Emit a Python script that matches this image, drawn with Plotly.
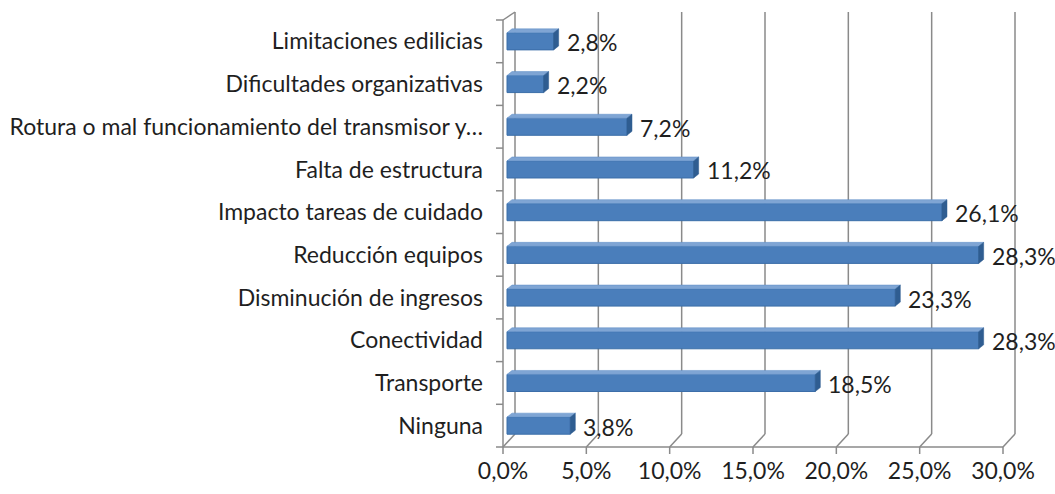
import plotly.graph_objects as go

# chart data, listed top to bottom as in the picture
labels = [
    "Limitaciones edilicias",
    "Dificultades organizativas",
    "Rotura o mal funcionamiento del transmisor y…",
    "Falta de estructura",
    "Impacto tareas de cuidado",
    "Reducción equipos",
    "Disminución de ingresos",
    "Conectividad",
    "Transporte",
    "Ninguna",
]
values = [2.8, 2.2, 7.2, 11.2, 26.1, 28.3, 23.3, 28.3, 18.5, 3.8]
x_ticks = [0, 5, 10, 15, 20, 25, 30]
x_tick_text = ["0,0%", "5,0%", "10,0%", "15,0%", "20,0%", "25,0%", "30,0%"]

# plotly draws categories bottom-up
cats = labels[::-1]
vals = values[::-1]
n = len(cats)

FONT = "Lato"
TXT = "#1f1f1f"
GRID = "#8a8a8a"
FRONT = "#4a7ebb"
TOP = "#7fa5d4"
SIDE = "#2f5d91"

W, H = 1055, 494
# where 0%..30% and the category band land on screen
X_LO, X_HI = 507, 1007
Y_TOP, Y_BOT = 20, 447
# the plot box is a bit bigger so the 3D walls/ticks are not clipped
L, R, T, B = 495, 1022, 6, 455
s = (X_HI - X_LO) / 30.0
c = (Y_BOT - Y_TOP) / n
x_range = [(L - X_LO) / s, 30 + (R - X_HI) / s]
y_range = [-0.5 - (B - Y_BOT) / c, n - 0.5 + (Y_TOP - T) / c]

# 3D look: front plane 4px left of the bars, back wall 8px right/13px up
FRONT_PX = -4
BACK_PX = 8
BACK_UP = 13
BAR_W = 0.4
dx = 0.3      # cap depth in % units (~5px)
dy = 0.093    # cap depth in category units (~4px)

fig = go.Figure()
fig.add_trace(go.Bar(
    x=vals, y=list(range(n)),
    orientation="h",
    width=BAR_W,
    marker=dict(color=FRONT, line=dict(color="#3b6ea8", width=1)),
    hoverinfo="skip",
))

shapes = []
gl = dict(color=GRID, width=1.5)
for t in x_ticks:
    # back wall gridline
    shapes.append(dict(type="line", layer="below",
                       xref="x", xsizemode="pixel", xanchor=t, x0=BACK_PX, x1=BACK_PX,
                       yref="y", ysizemode="pixel", yanchor=-0.5, y0=BACK_UP, y1=BACK_UP + 422,
                       line=gl))
    # floor diagonal
    shapes.append(dict(type="line", layer="below",
                       xref="x", xsizemode="pixel", xanchor=t, x0=FRONT_PX, x1=BACK_PX,
                       yref="y", ysizemode="pixel", yanchor=-0.5, y0=0, y1=BACK_UP,
                       line=gl))
    # front tick mark
    shapes.append(dict(type="line", layer="below",
                       xref="x", xsizemode="pixel", xanchor=t, x0=FRONT_PX, x1=FRONT_PX,
                       yref="y", ysizemode="pixel", yanchor=-0.5, y0=0, y1=-7,
                       line=gl))
# front floor line
shapes.append(dict(type="line", layer="below",
                   xref="x", xsizemode="pixel", xanchor=0, x0=FRONT_PX, x1=FRONT_PX + 500,
                   yref="y", ysizemode="pixel", yanchor=-0.5, y0=0, y1=0,
                   line=gl))
# front left wall line
shapes.append(dict(type="line", layer="below",
                   xref="x", xsizemode="pixel", xanchor=0, x0=FRONT_PX, x1=FRONT_PX,
                   yref="y", y0=-0.5, y1=n - 0.5,
                   line=gl))
# left wall top diagonal
shapes.append(dict(type="line", layer="below",
                   xref="x", xsizemode="pixel", xanchor=0, x0=FRONT_PX, x1=BACK_PX,
                   yref="y", ysizemode="pixel", yanchor=n - 0.5, y0=0, y1=8,
                   line=gl))
# left-axis tick marks on category boundaries
for k in range(n + 1):
    shapes.append(dict(type="line", layer="below",
                       xref="x", xsizemode="pixel", xanchor=0, x0=FRONT_PX - 7, x1=FRONT_PX,
                       yref="y", y0=k - 0.5, y1=k - 0.5,
                       line=gl))

# top and end faces of each bar
for i, v in enumerate(vals):
    yt = i + BAR_W / 2
    yb = i - BAR_W / 2
    shapes.append(dict(type="path", layer="above", xref="x", yref="y",
                       path=f"M 0,{yt} L {v},{yt} L {v+dx},{yt+dy} L {dx},{yt+dy} Z",
                       fillcolor=TOP, line=dict(color="#5d8cc6", width=0.5)))
    shapes.append(dict(type="path", layer="above", xref="x", yref="y",
                       path=f"M {v},{yb} L {v},{yt} L {v+dx},{yt+dy} L {v+dx},{yb+dy} Z",
                       fillcolor=SIDE, line=dict(color=SIDE, width=0.5)))

annotations = []
for i, v in enumerate(vals):
    annotations.append(dict(
        x=v, y=i, xref="x", yref="y",
        text=f"{v:.1f}%".replace(".", ","),
        showarrow=False, xanchor="left", yanchor="middle",
        xshift=11, yshift=-1,
        font=dict(family=FONT, size=23, color=TXT),
    ))

fig.update_layout(
    width=W, height=H,
    margin=dict(l=L, r=W - R, t=T, b=H - B),
    paper_bgcolor="white",
    plot_bgcolor="white",
    showlegend=False,
    shapes=shapes,
    annotations=annotations,
    xaxis=dict(
        range=x_range,
        automargin=False,
        tickvals=x_ticks,
        ticktext=x_tick_text,
        showgrid=False, zeroline=False, showline=False,
        ticks="",
        ticklabelshift=FRONT_PX,
        ticklabelstandoff=0,
        tickfont=dict(family=FONT, size=23, color=TXT),
    ),
    yaxis=dict(
        range=y_range,
        automargin=False,
        tickvals=list(range(n)),
        ticktext=cats,
        showgrid=False, zeroline=False, showline=False,
        ticks="",
        ticklabelstandoff=11,
        tickfont=dict(family=FONT, size=23, color=TXT),
    ),
)

# drop the page's default 8px body margin so the figure fills the window
fig.write_html("out.html", config={"displayModeBar": False},
               post_script="document.body.style.margin='0';")
